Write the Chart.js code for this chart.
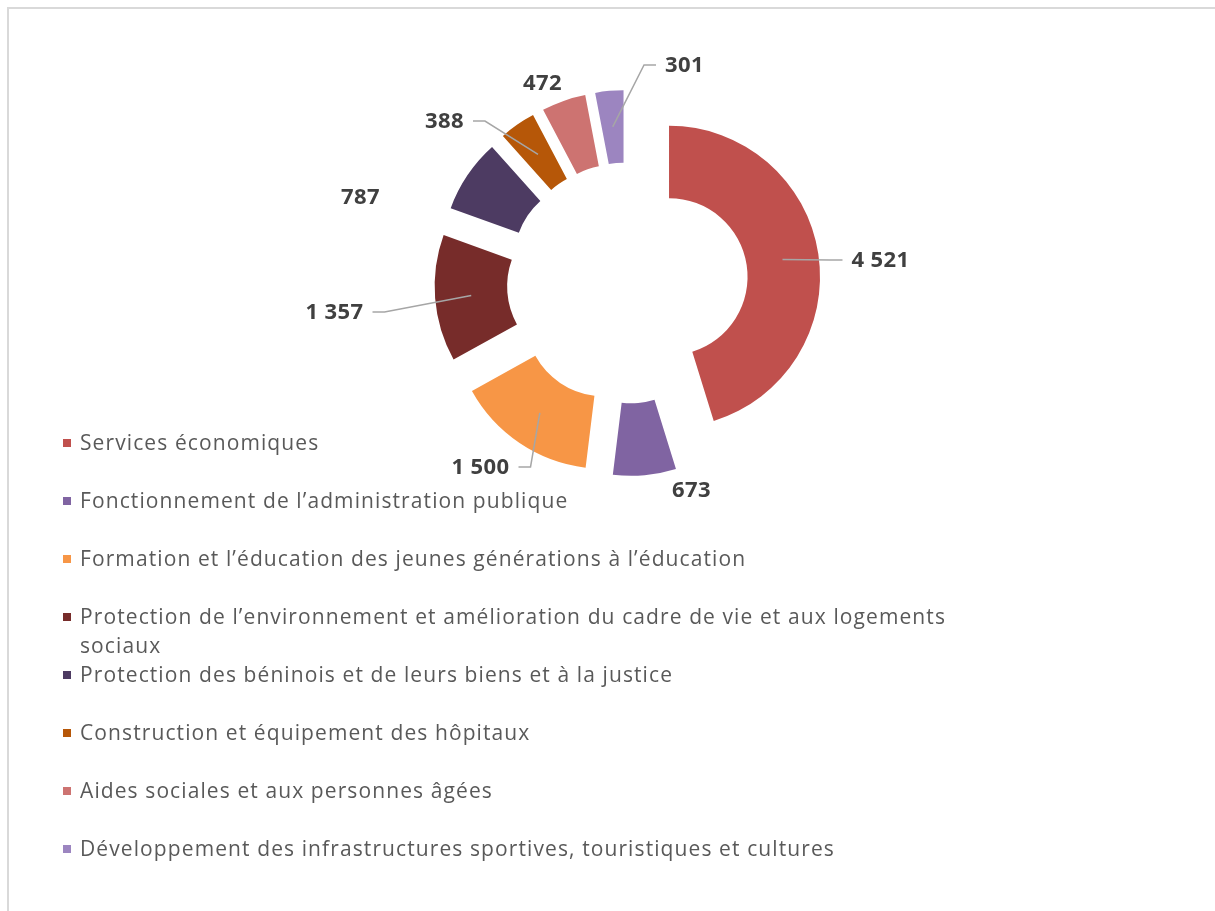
<!DOCTYPE html>
<html>
<head>
<meta charset="utf-8">
<script src="https://cdn.jsdelivr.net/npm/chart.js@4.4.1/dist/chart.umd.min.js"></script>
<style>
  html, body { margin: 0; padding: 0; background: #fff; }
  #frame { position: absolute; left: 7px; top: 7px; width: 1300px; height: 1000px;
           border-top: 2px solid #d9d9d9; border-left: 2px solid #d9d9d9; }
  #chart { position: absolute; left: 0; top: 0; }
</style>
</head>
<body>
<div id="frame"></div>
<canvas id="chart" width="1215" height="911"></canvas>
<script>
// Data
const categories = [
    'Services économiques',
    'Fonctionnement de l’administration publique',
    'Formation et l’éducation des jeunes générations à l’éducation',
    ['Protection de l’environnement et amélioration du cadre de vie et aux logements', 'sociaux'],
    'Protection des béninois et de leurs biens et à la justice',
    'Construction et équipement des hôpitaux',
    'Aides sociales et aux personnes âgées',
    'Développement des infrastructures sportives, touristiques et cultures'
];
const values = [4521, 673, 1500, 1357, 787, 388, 472, 301];
const valueLabels = ['4 521', '673', '1 500', '1 357', '787', '388', '472', '301'];
const colors = ['#C0504D', '#8064A2', '#F79646', '#772C2A', '#4D3B62', '#B65708', '#CD7371', '#9C85C0'];

// label layout (text centre relative to doughnut centre) and leader lines
const labelOffsets = [[253, -23], [64, 207], [-147, 184], [-293, 29], [-267, -86], [-183, -162], [-85, -200], [57, -218]];
const hasLeader = [true, false, true, true, false, true, false, true];

const EXPLODE = 42;

// push every slice outwards along its own mid angle
const explodePlugin = {
    id: 'explode',
    afterDatasetsUpdate(chart) {
        chart.getDatasetMeta(0).data.forEach(arc => {
            const mid = (arc.startAngle + arc.endAngle) / 2;
            arc.x += Math.cos(mid) * EXPLODE;
            arc.y += Math.sin(mid) * EXPLODE;
        });
    }
};

const valueLabelPlugin = {
    id: 'valueLabels',
    afterDatasetsDraw(chart) {
        const ctx = chart.ctx;
        const area = chart.chartArea;
        const cx = (area.left + area.right) / 2;
        const cy = (area.top + area.bottom) / 2;
        ctx.save();
        ctx.font = 'bold 22px "Open Sans"';
        ctx.letterSpacing = '0.4px';
        ctx.textAlign = 'center';
        ctx.textBaseline = 'middle';
        chart.getDatasetMeta(0).data.forEach((arc, i) => {
            const mid = (arc.startAngle + arc.endAngle) / 2;
            const r = (arc.innerRadius + arc.outerRadius) / 2;
            const px = arc.x + Math.cos(mid) * r;
            const py = arc.y + Math.sin(mid) * r;
            const tx = cx + labelOffsets[i][0];
            const ty = cy + labelOffsets[i][1];
            const w = ctx.measureText(valueLabels[i]).width;
            if (hasLeader[i]) {
                const side = px < tx ? -1 : 1;
                const edge = tx + side * (w / 2 + 9);
                ctx.strokeStyle = '#A6A6A6';
                ctx.lineWidth = 1.5;
                ctx.beginPath();
                ctx.moveTo(edge, ty);
                ctx.lineTo(edge + side * 12, ty);
                ctx.lineTo(px, py);
                ctx.stroke();
            }
            ctx.fillStyle = '#404040';
            ctx.fillText(valueLabels[i], tx, ty + 1);
        });
        ctx.restore();
    }
};

const legendPlugin = {
    id: 'sideLegend',
    afterDraw(chart) {
        const ctx = chart.ctx;
        const labels = chart.data.labels;
        const bg = chart.data.datasets[0].backgroundColor;
        ctx.save();
        ctx.font = '21px "Open Sans"';
        ctx.letterSpacing = '1.1px';
        ctx.textBaseline = 'middle';
        ctx.textAlign = 'left';
        labels.forEach((lab, i) => {
            const y = 443 + i * 58;
            ctx.fillStyle = bg[i];
            ctx.fillRect(63, y - 4, 8, 8);
            ctx.fillStyle = '#595959';
            const lines = Array.isArray(lab) ? lab : [lab];
            lines.forEach((t, k) => ctx.fillText(t, 80, y + 1 + k * 29));
        });
        ctx.restore();
    }
};

const data = {
    labels: categories,
    datasets: [{
        data: values,
        backgroundColor: colors,
        borderWidth: 0
    }]
};

const config = {
    type: 'doughnut',
    data: data,
    options: {
        responsive: false,
        animation: false,
        events: [],
        radius: 151,
        cutout: '52%',
        layout: { padding: { left: 40, right: 0, top: 0, bottom: 345 } },
        plugins: {
            legend: { display: false },
            tooltip: { enabled: false }
        }
    },
    plugins: [explodePlugin, valueLabelPlugin, legendPlugin]
};

const chart = new Chart(document.getElementById('chart'), config);
</script>
</body>
</html>
